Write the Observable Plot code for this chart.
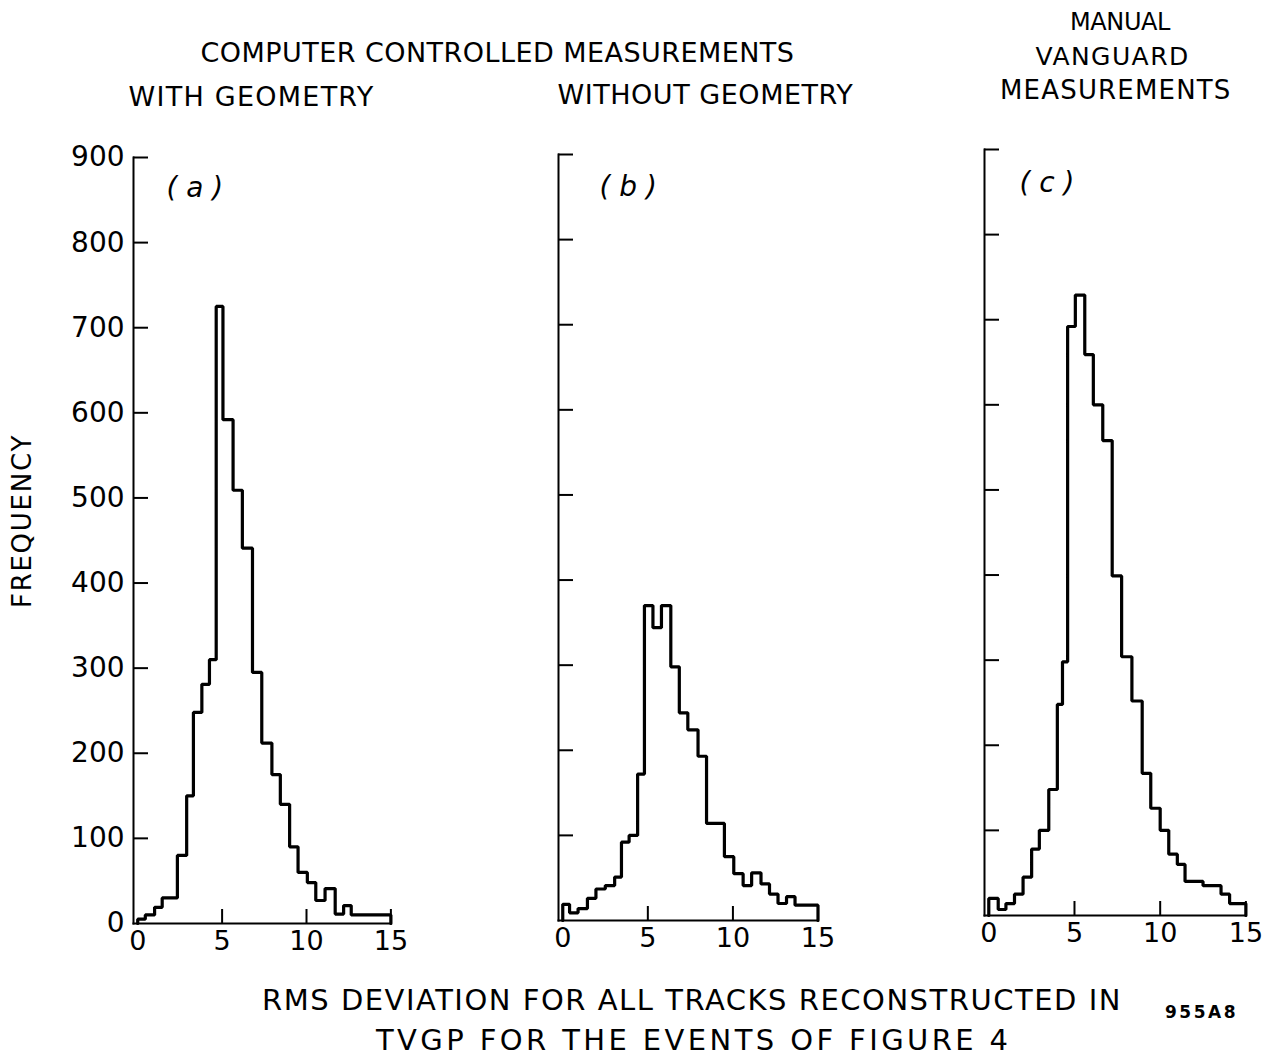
<!DOCTYPE html>
<html>
<head>
<meta charset="utf-8">
<script src="https://cdn.jsdelivr.net/npm/d3@7"></script>
<script src="https://cdn.jsdelivr.net/npm/@observablehq/plot@0.6"></script>
<style>
html, body { margin: 0; padding: 0; background: #fff; }
#page { position: relative; width: 1269px; height: 1058px; overflow: hidden; background: #fff;
        font-family: "DejaVu Sans", sans-serif; color: #000; }
.t { position: absolute; white-space: nowrap; line-height: 1; font-size: 27px; }
.panel { position: absolute; }
</style>
</head>
<body>
<div id="page"></div>
<script>
// ---------------- data ----------------
const xTickValues = [0, 5, 10, 15];
const yTickValues = [0, 100, 200, 300, 400, 500, 600, 700, 800, 900];

// (a) computer controlled, with geometry: bin edges and frequencies
const edgesA  = [0, 0.45, 1.0, 1.45, 2.35, 2.9, 3.3, 3.8, 4.25, 4.65, 5.05, 5.65, 6.2, 6.8, 7.35, 7.95, 8.45, 9.0, 9.5, 10.05, 10.55, 11.1, 11.7, 12.2, 12.65, 15.0];
const countsA = [5, 10, 19, 30, 80, 150, 248, 281, 310, 725, 592, 509, 441, 295, 212, 175, 140, 90, 60, 48, 27, 41, 11, 21, 10];

// (b) computer controlled, without geometry
const edgesB  = [0, 0.4, 0.9, 1.45, 1.95, 2.5, 3.05, 3.45, 3.9, 4.4, 4.8, 5.3, 5.8, 6.35, 6.85, 7.35, 7.95, 8.45, 9.5, 10.05, 10.6, 11.1, 11.65, 12.15, 12.65, 13.15, 13.65, 15.0];
const countsB = [19, 9, 14, 26, 37, 41, 51, 92, 100, 172, 370, 344, 370, 298, 244, 224, 193, 114, 75, 55, 41, 56, 43, 31, 20, 28, 18];

// (c) manual Vanguard measurements
const edgesC  = [0, 0.55, 1.0, 1.5, 2.0, 2.5, 2.95, 3.5, 4.0, 4.3, 4.6, 5.05, 5.6, 6.1, 6.65, 7.2, 7.75, 8.35, 8.95, 9.45, 10.0, 10.5, 11.0, 11.45, 12.5, 13.55, 14.05, 15.0];
const countsC = [20, 7, 14, 25, 45, 78, 100, 148, 248, 298, 692, 729, 659, 600, 558, 399, 304, 252, 167, 126, 100, 72, 60, 40, 35, 25, 14];

const panelLabels = ["( a )", "( b )", "( c )"];

const titleMain = "COMPUTER CONTROLLED MEASUREMENTS";
const subA = "WITH GEOMETRY";
const subB = "WITHOUT GEOMETRY";
const titleC = ["MANUAL", "VANGUARD", "MEASUREMENTS"];
const yTitle = "FREQUENCY";
const caption = ["RMS DEVIATION FOR ALL TRACKS RECONSTRUCTED IN", "TVGP FOR THE EVENTS OF FIGURE 4"];
const figId = "955A8";

// ---------------- drawing ----------------
const page = document.getElementById("page");

function stepPoints(edges, counts) {
  const pts = [{x: edges[0], y: 0}];
  counts.forEach((c, i) => pts.push({x: edges[i], y: c}));
  pts.push({x: edges[edges.length - 1], y: counts[counts.length - 1]});
  pts.push({x: edges[edges.length - 1], y: 0});
  return pts;
}

function panel({edges, counts, label, frameLeft, frameTop, frameW, frameH, showY, ldx, ldy}) {
  const mL = 130, mT = 30, mR = 24, mB = 48;
  const svg = Plot.plot({
    width: mL + frameW + mR,
    height: mT + frameH + mB,
    marginLeft: mL, marginTop: mT, marginRight: mR, marginBottom: mB,
    x: {domain: [-0.25, 15]},
    y: {domain: [0, 900]},
    style: {fontFamily: "DejaVu Sans, sans-serif", fontSize: "28px", color: "#000", background: "transparent", overflow: "visible"},
    marks: [
      Plot.frame({anchor: "left", stroke: "#000", strokeWidth: 2}),
      Plot.frame({anchor: "bottom", stroke: "#000", strokeWidth: 2}),
      Plot.axisY({ticks: yTickValues.filter(d => d > 0), tickSize: -15, fill: "none", stroke: "#000", strokeWidth: 2, label: null}),
      showY ? Plot.axisY({ticks: yTickValues, tickSize: 0, tickPadding: 9, label: null, fill: "#000"}) : null,
      Plot.axisX({ticks: xTickValues.filter(d => d > 0), tickSize: -14, fill: "none", stroke: "#000", strokeWidth: 2, label: null}),
      Plot.axisX({ticks: xTickValues, tickSize: 0, tickPadding: 7, label: null, fill: "#000", fontSize: 27}),
      Plot.line(stepPoints(edges, counts), {x: "x", y: "y", curve: "step-after", stroke: "#000", strokeWidth: 3.2, strokeLinejoin: "miter"}),
      Plot.text([label], {frameAnchor: "top-left", dx: ldx, dy: ldy, text: d => d, textAnchor: "start", lineAnchor: "middle",
                          fontStyle: "italic", fontSize: 28, fill: "#000"})
    ]
  });
  svg.classList.add("panel");
  svg.style.left = (frameLeft - mL) + "px";
  svg.style.top = (frameTop - mT) + "px";
  page.appendChild(svg);
}

panel({edges: edgesA, counts: countsA, label: panelLabels[0], frameLeft: 133.3, frameTop: 157, frameW: 257.4, frameH: 766, showY: true, ldx: 33, ldy: 31});
panel({edges: edgesB, counts: countsB, label: panelLabels[1], frameLeft: 557.5, frameTop: 154, frameW: 259.5, frameH: 766, showY: false, ldx: 41, ldy: 33});
panel({edges: edgesC, counts: countsC, label: panelLabels[2], frameLeft: 984.3, frameTop: 149, frameW: 261.4, frameH: 766, showY: false, ldx: 35, ldy: 34});

function addText(str, cx, cy, target, extra = {}) {
  const el = document.createElement("div");
  el.className = "t";
  el.textContent = str;
  Object.assign(el.style, extra);
  page.appendChild(el);
  const w = el.offsetWidth;
  const n = str.length;
  const ls = n > 1 ? (target - w) / (n - 1) : 0;
  el.style.letterSpacing = ls + "px";
  el.style.left = (cx - target / 2) + "px";
  el.style.top = (cy - el.offsetHeight / 2) + "px";
  return el;
}

addText(titleMain, 497, 52, 593);
addText(subA, 251, 96, 245);
addText(subB, 705, 94, 295);
addText(titleC[0], 1120, 22, 100, {fontSize: "24px"});
addText(titleC[1], 1112, 56, 153, {fontSize: "25px"});
addText(titleC[2], 1115, 90, 230, {fontSize: "26px"});
addText(caption[0], 691, 1000, 858, {fontSize: "29px"});
addText(caption[1], 692, 1040, 632, {fontSize: "29px"});
addText(figId, 1200, 1012, 70, {fontSize: "17px", fontWeight: "bold"});

const yl = addText(yTitle, 22, 521, 172, {fontSize: "26px"});
const bw = yl.offsetWidth;
yl.style.left = (22 - bw / 2) + "px";
yl.style.transform = "rotate(-90deg)";
</script>
</body>
</html>
